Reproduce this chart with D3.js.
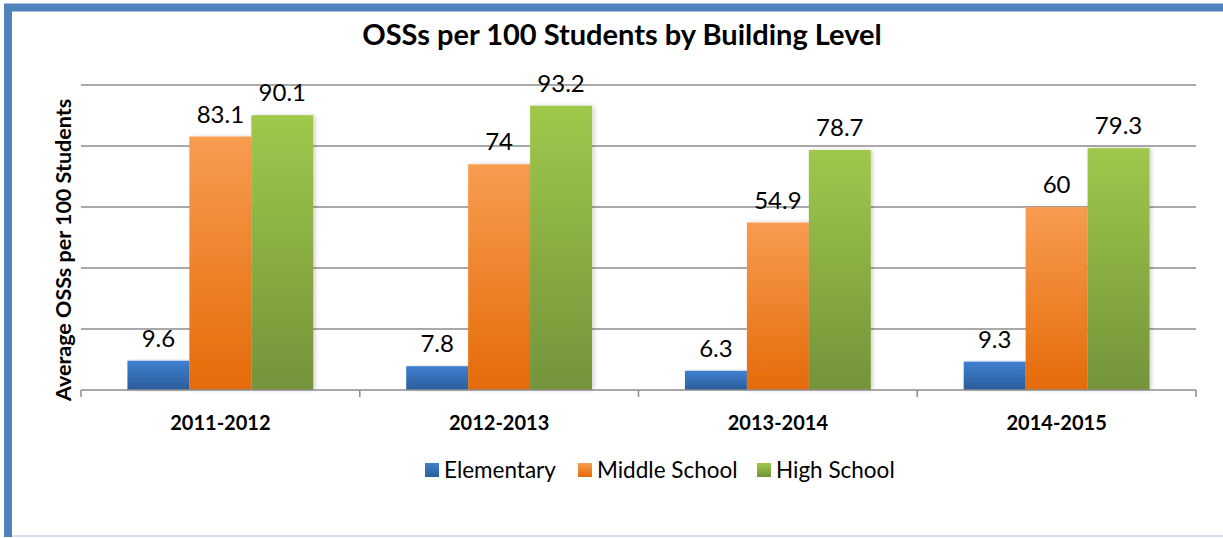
<html>

<head>
    <style>
        body { margin: 0; background: #fff; }
        text { font-family: Lato, "Open Sans", sans-serif; fill: #000; }
    </style>
</head>

<body>
    <svg id="chart"></svg>
</body>
<script src="https://cdnjs.cloudflare.com/ajax/libs/d3/7.8.5/d3.min.js"></script>
<script>
    const years = ["2011-2012", "2012-2013", "2013-2014", "2014-2015"];
    const levels = ["Elementary", "Middle School", "High School"];
    const elementary = [9.6, 7.8, 6.3, 9.3];
    const middle = [83.1, 74, 54.9, 60];
    const high = [90.1, 93.2, 78.7, 79.3];
    const yTicks = [0, 20, 40, 60, 80, 100];

    const width = 1223,
        height = 538;

    const svg = d3.select('#chart')
        .attr('width', width)
        .attr('height', height);

    // gradients like excel's bar fill
    const colors = {
        "Elementary": ["#3f80d0", "#2b5d9b"],
        "Middle School": ["#f89c50", "#e46b09"],
        "High School": ["#9fc84b", "#74933a"]
    };
    const defs = svg.append('defs');
    levels.forEach((l, i) => {
        const g = defs.append('linearGradient')
            .attr('id', 'grad' + i)
            .attr('x1', 0).attr('y1', 0).attr('x2', 0).attr('y2', 1);
        g.append('stop').attr('offset', '0%').attr('stop-color', colors[l][0]);
        g.append('stop').attr('offset', '100%').attr('stop-color', colors[l][1]);
    });
    const shadow = defs.append('filter').attr('id', 'shadow')
        .attr('x', '-20%').attr('y', '-5%').attr('width', '140%').attr('height', '110%');
    shadow.append('feDropShadow')
        .attr('dx', 2).attr('dy', 0).attr('stdDeviation', 2)
        .attr('flood-color', '#000').attr('flood-opacity', 0.18);

    // frame
    svg.append('rect')
        .attr('x', 8).attr('y', 7).attr('width', width).attr('height', 529)
        .attr('fill', 'none').attr('stroke', '#c9d7ea').attr('stroke-width', 1.5);
    svg.append('line').attr('x1', 4).attr('x2', width).attr('y1', 7.5).attr('y2', 7.5)
        .attr('stroke', '#4f81bd').attr('stroke-width', 8);
    svg.append('line').attr('x1', 8).attr('x2', 8).attr('y1', 4).attr('y2', 537)
        .attr('stroke', '#4f81bd').attr('stroke-width', 8);

    const plot = { left: 81, right: 1196, top: 85, bottom: 390 };

    const x0 = d3.scaleBand()
        .domain(years)
        .range([plot.left, plot.right])
        .paddingInner(0).paddingOuter(0);

    const x1 = d3.scaleBand()
        .domain(levels)
        .range([0, x0.bandwidth()])
        .paddingOuter(0.75).paddingInner(0);

    const y = d3.scaleLinear()
        .domain([0, 100])
        .range([plot.bottom, plot.top]);

    // gridlines
    svg.append('g')
        .selectAll('line')
        .data(yTicks.filter(d => d > 0))
        .enter().append('line')
        .attr('x1', plot.left).attr('x2', plot.right)
        .attr('y1', d => y(d)).attr('y2', d => y(d))
        .attr('stroke', '#8c8c8c').attr('stroke-width', 1.5);

    const rows = years.map((yr, i) => ({
        year: yr,
        values: [elementary[i], middle[i], high[i]]
    }));

    const groups = svg.append('g')
        .selectAll('g')
        .data(rows)
        .enter().append('g')
        .attr('transform', d => `translate(${x0(d.year)},0)`);

    groups.selectAll('rect')
        .data(d => d.values.map((v, i) => ({ level: levels[i], value: v, i: i })))
        .enter().append('rect')
        .attr('x', d => x1(d.level))
        .attr('y', d => y(d.value))
        .attr('width', x1.bandwidth())
        .attr('height', d => y(0) - y(d.value))
        .attr('fill', d => `url(#grad${d.i})`)
        .attr('filter', 'url(#shadow)');

    groups.selectAll('text')
        .data(d => d.values.map((v, i) => ({ level: levels[i], value: v })))
        .enter().append('text')
        .attr('x', d => x1(d.level) + x1.bandwidth() / 2)
        .attr('y', d => y(d.value) - 14)
        .attr('text-anchor', 'middle')
        .style('font-size', '24px')
        .text(d => d.value);

    // x axis
    const xAxis = d3.axisBottom(x0).tickSize(0).tickPadding(0);
    const ax = svg.append('g')
        .attr('transform', `translate(0,${plot.bottom})`)
        .call(xAxis);
    ax.select('.domain').remove();
    ax.selectAll('text')
        .attr('y', 40)
        .attr('dy', 0)
        .style('font-size', '20px')
        .style('font-weight', 'bold')
        .style('font-family', 'Lato, sans-serif');
    svg.append('line')
        .attr('x1', plot.left).attr('x2', plot.right)
        .attr('y1', plot.bottom).attr('y2', plot.bottom)
        .attr('stroke', '#8c8c8c').attr('stroke-width', 1.5);
    svg.append('g')
        .selectAll('line')
        .data(years.concat(['end']))
        .enter().append('line')
        .attr('x1', d => d === 'end' ? plot.right : x0(d))
        .attr('x2', d => d === 'end' ? plot.right : x0(d))
        .attr('y1', plot.bottom).attr('y2', plot.bottom + 7)
        .attr('stroke', '#8c8c8c').attr('stroke-width', 1.5);

    // titles
    svg.append('text')
        .attr('x', 622).attr('y', 45)
        .attr('text-anchor', 'middle')
        .style('font-size', '29px')
        .style('font-weight', 'bold')
        .text('OSSs per 100 Students by Building Level');

    svg.append('text')
        .attr('transform', 'translate(71,250) rotate(-90)')
        .attr('text-anchor', 'middle')
        .style('font-size', '21.5px')
        .style('font-weight', 'bold')
        .text('Average OSSs per 100 Students');

    // legend
    const legendX = [425, 578, 757];
    const legend = svg.append('g')
        .selectAll('g')
        .data(levels)
        .enter().append('g')
        .attr('transform', (d, i) => `translate(${legendX[i]},463)`);
    legend.append('rect')
        .attr('width', 14).attr('height', 14)
        .attr('fill', (d, i) => `url(#grad${i})`);
    legend.append('text')
        .attr('x', 19).attr('y', 15)
        .style('font-size', '22.5px')
        .text(d => d);
</script>

</html>
